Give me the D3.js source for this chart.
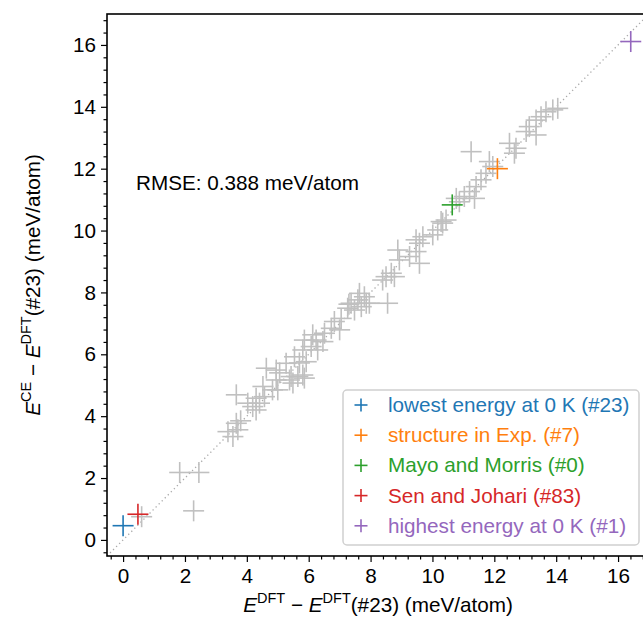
<!DOCTYPE html>
<html>
<head>
<meta charset="utf-8">
<script src="https://cdn.jsdelivr.net/npm/d3@7"></script>
<style>
  html, body { margin: 0; padding: 0; background: #fff; }
  svg { display: block; font-family: "Liberation Sans", Arial, sans-serif; }
</style>
</head>
<body>
<svg id="chart" width="643" height="622"></svg>
<script>
// Grey crosses: all enumerated structures (DFT vs. cluster-expansion energy, meV/atom)
const dftAll = [0.6, 1.83, 2.45, 2.28, 3.39, 3.55, 3.66, 3.71, 3.80, 3.66, 4.03, 4.19, 4.30, 4.30, 4.41,
  4.52, 4.57, 4.63, 4.83, 4.95, 4.95, 5.00, 5.06, 5.27, 5.38, 5.43, 5.49, 5.54, 5.65, 5.70,
  5.81, 5.86, 5.81, 5.92, 5.86, 6.08, 6.13, 6.24, 6.29, 6.46, 6.51, 6.73, 6.83, 7.00, 7.05,
  7.26, 7.30, 7.37, 7.48, 7.59, 7.64, 7.70, 7.80, 7.86, 7.96, 8.55, 8.39, 8.50, 8.67, 8.77,
  8.88, 8.93, 9.26, 9.47, 9.58, 9.58, 9.47, 9.69, 10.01, 10.17, 10.28, 10.33, 10.44, 10.77, 10.87,
  11.03, 11.20, 11.36, 11.41, 11.57, 11.73, 11.84, 11.95, 11.25, 12.49, 12.65, 12.70, 13.03, 13.13,
  13.35, 13.35, 13.51, 13.67, 13.89, 14.05];
const ceAll = [0.75, 2.18, 2.18, 0.94, 3.50, 3.34, 3.77, 3.56, 3.85, 4.69, 4.42, 4.31, 4.20, 4.58, 4.42,
  4.96, 4.63, 5.55, 4.85, 5.17, 5.49, 4.85, 5.40, 5.71, 5.17, 5.28, 5.07, 5.92, 5.28, 5.72,
  5.33, 5.23, 6.14, 5.76, 6.46, 6.25, 6.63, 6.46, 6.14, 6.41, 6.68, 6.84, 7.06, 6.79, 7.16,
  7.49, 7.62, 7.65, 7.43, 7.76, 7.97, 7.54, 7.86, 7.65, 7.65, 7.65, 8.40, 8.51, 8.62, 8.51,
  9.37, 9.05, 9.16, 9.32, 8.94, 9.59, 9.70, 9.80, 9.86, 10.02, 10.29, 10.24, 10.34, 11.04, 10.93,
  11.10, 11.26, 11.04, 11.42, 11.64, 11.85, 12.23, 12.07, 12.55, 12.82, 12.50, 12.66, 13.20, 13.36,
  13.09, 13.57, 13.68, 13.84, 13.90, 13.95];

// Highlighted structures
const hlLabels = ["lowest energy at 0 K (#23)", "structure in Exp. (#7)", "Mayo and Morris (#0)",
  "Sen and Johari (#83)", "highest energy at 0 K (#1)"];
const hlDft = [0.0, 12.10, 10.64, 0.48, 16.41];
const hlCe = [0.46, 12.00, 10.83, 0.83, 16.11];
const hlColors = ["#1f77b4", "#ff7f0e", "#2ca02c", "#d62728", "#9467bd"];

const tickValues = [0, 2, 4, 6, 8, 10, 12, 14, 16];
const rmseText = "RMSE: 0.388 meV/atom";
const axisMin = -0.52, axisMax = 17.0;

const svg = d3.select("#chart");
const plotLeft = 107, plotTop = 14, plotSize = 542;
const fs = 20.7;

const x = d3.scaleLinear().domain([axisMin, axisMax]).range([plotLeft, plotLeft + plotSize]);
const y = d3.scaleLinear().domain([axisMin, axisMax]).range([plotTop + plotSize, plotTop]);

const minorTicks = d3.range(-0.4, axisMax, 0.4).filter(v => Math.abs(v / 2 - Math.round(v / 2)) > 1e-6);

// parity line
svg.append("line")
  .attr("x1", x(axisMin)).attr("y1", y(axisMin))
  .attr("x2", x(axisMax)).attr("y2", y(axisMax))
  .attr("stroke", "#aaaaaa").attr("stroke-width", 1.3)
  .attr("stroke-dasharray", "1.3,3");

// plus-shaped marker
function plus(g, cx, cy, half, color, width) {
  g.append("line").attr("x1", cx - half).attr("x2", cx + half).attr("y1", cy).attr("y2", cy)
    .attr("stroke", color).attr("stroke-width", width);
  g.append("line").attr("x1", cx).attr("x2", cx).attr("y1", cy - half).attr("y2", cy + half)
    .attr("stroke", color).attr("stroke-width", width);
}

const gAll = svg.append("g");
dftAll.forEach((d, i) => plus(gAll, x(d), y(ceAll[i]), 10.5, "#c0c0c0", 1.6));

const gHl = svg.append("g");
hlDft.forEach((d, i) => plus(gHl, x(d), y(hlCe[i]), 10.5, hlColors[i], 1.6));

// axes
const xAxis = d3.axisBottom(x).tickValues(tickValues).tickSize(6).tickPadding(6).tickFormat(d3.format("d"));
const xMinor = d3.axisBottom(x).tickValues(minorTicks).tickSize(3.5).tickFormat("");
const yAxis = d3.axisLeft(y).tickValues(tickValues).tickSize(6).tickPadding(5).tickFormat(d3.format("d"));
const yMinor = d3.axisLeft(y).tickValues(minorTicks).tickSize(3.5).tickFormat("");

function styleAxis(g) {
  g.select(".domain").remove();
  g.selectAll("line").attr("stroke", "#000").attr("stroke-width", 1.2);
  g.selectAll("text").attr("font-size", fs).attr("fill", "#000")
    .attr("font-family", "'Liberation Sans', Arial, sans-serif");
}
svg.append("g").attr("transform", `translate(0,${plotTop + plotSize})`).call(xAxis).call(styleAxis);
svg.append("g").attr("transform", `translate(0,${plotTop + plotSize})`).call(xMinor).call(styleAxis);
svg.append("g").attr("transform", `translate(${plotLeft},0)`).call(yAxis).call(styleAxis);
svg.append("g").attr("transform", `translate(${plotLeft},0)`).call(yMinor).call(styleAxis);

// frame
svg.append("rect").attr("x", plotLeft).attr("y", plotTop).attr("width", plotSize).attr("height", plotSize)
  .attr("fill", "none").attr("stroke", "#000").attr("stroke-width", 1.6);

// RMSE annotation
svg.append("text").attr("x", 136).attr("y", 190).attr("font-size", fs).attr("fill", "#000").text(rmseText);

// legend
const lg = svg.append("g");
lg.append("rect").attr("x", 343).attr("y", 390).attr("width", 296).attr("height", 155)
  .attr("rx", 4).attr("fill", "#fff").attr("fill-opacity", 0.85)
  .attr("stroke", "#d0d0d0").attr("stroke-width", 1.5);
hlLabels.forEach((t, i) => {
  const cy = 405 + i * 30.2;
  plus(lg, 361, cy, 6.5, hlColors[i], 1.6);
  lg.append("text").attr("x", 388).attr("y", cy + 7).attr("font-size", fs)
    .attr("fill", hlColors[i]).text(t);
});

// axis labels with superscripts
function label(textSel, parts) {
  parts.forEach(p => {
    const ts = textSel.append("tspan").text(p.t);
    if (p.it) ts.attr("font-style", "italic");
    if (p.sup) ts.attr("font-size", 14.5).attr("dy", -9);
    if (p.down) ts.attr("dy", 9);
  });
}
const xl = svg.append("text").attr("x", x(axisMin) + plotSize / 2).attr("y", 612)
  .attr("text-anchor", "middle").attr("font-size", fs).attr("fill", "#000");
label(xl, [{t: "E", it: true}, {t: "DFT", sup: true}, {t: " \u2212 ", down: true}, {t: "E", it: true},
  {t: "DFT", sup: true}, {t: "(#23) (meV/atom)", down: true}]);

const yl = svg.append("text").attr("transform", `translate(40,${plotTop + plotSize / 2}) rotate(-90)`)
  .attr("text-anchor", "middle").attr("font-size", fs).attr("fill", "#000");
label(yl, [{t: "E", it: true}, {t: "CE", sup: true}, {t: " \u2212 ", down: true}, {t: "E", it: true},
  {t: "DFT", sup: true}, {t: "(#23) (meV/atom)", down: true}]);
</script>
</body>
</html>
